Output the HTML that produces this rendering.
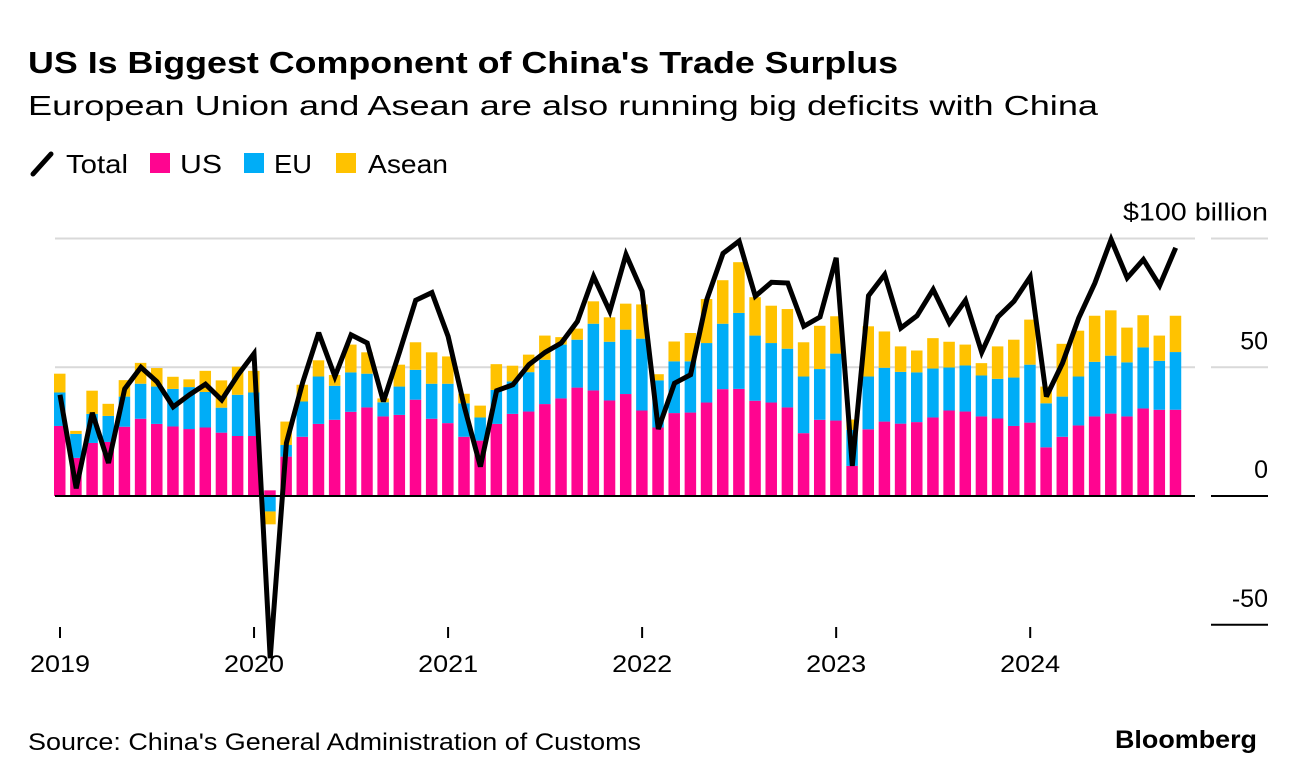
<!DOCTYPE html>
<html><head><meta charset="utf-8"><style>
body{margin:0;background:#fff;width:1296px;height:782px;overflow:hidden;font-family:"Liberation Sans",Arial,sans-serif;}
svg{position:absolute;left:0;top:0}
</style></head><body>
<svg id="c" width="1296" height="782" xmlns="http://www.w3.org/2000/svg">
<text x="28" y="73" font-size="31" font-weight="bold" fill="#000" textLength="870" lengthAdjust="spacingAndGlyphs">US Is Biggest Component of China's Trade Surplus</text>
<text x="28" y="115" font-size="28" fill="#000" textLength="1070" lengthAdjust="spacingAndGlyphs">European Union and Asean are also running big deficits with China</text>
<g>
<g><line x1="33" y1="174" x2="51" y2="154" stroke="#000" stroke-width="5" stroke-linecap="round"/><text x="66" y="173" font-size="26" textLength="62" lengthAdjust="spacingAndGlyphs">Total</text></g>
<g><rect x="150" y="153" width="20" height="20" fill="#ff0590"/><text x="180" y="173" font-size="26" textLength="42" lengthAdjust="spacingAndGlyphs">US</text></g>
<g><rect x="244" y="153" width="20" height="20" fill="#00adf7"/><text x="274" y="173" font-size="26" textLength="38" lengthAdjust="spacingAndGlyphs">EU</text></g>
<g><rect x="336" y="153" width="20" height="20" fill="#ffc200"/><text x="368" y="173" font-size="26" textLength="80" lengthAdjust="spacingAndGlyphs">Asean</text></g>
</g>
<g id="grid"></g><g id="bars"></g><g id="line"></g><g id="axes"></g>
<text x="28" y="750" font-size="24" fill="#000" textLength="613" lengthAdjust="spacingAndGlyphs">Source: China's General Administration of Customs</text>
<text x="1115" y="748" font-size="25" font-weight="bold" fill="#000" textLength="142" lengthAdjust="spacingAndGlyphs">Bloomberg</text>
</svg>
<script>
const years = ["2019","2020","2021","2022","2023","2024"];
const yTicks = [100,50,0,-50];
const usVals = [27.2,14.8,20.6,21,26.9,30,28,27,26,26.6,24.6,23.3,23.3,2.2,15.3,23,28,29.6,32.7,34.4,30.9,31.5,37.4,30,28.3,23,21.5,28,31.9,32.8,35.7,37.9,42.1,41,37.1,39.6,33.2,26.6,32.2,32.4,36.3,41.5,41.6,37,36.3,34.4,24.4,29.6,29.3,11.7,25.9,28.9,28.1,28.7,30.5,33.2,32.8,30.9,30.1,27.2,28.5,18.9,23,27.4,30.9,32,30.9,34,33.5,33.5];
const euVals = [13,9.3,11.3,10.1,11.7,13.6,14.5,14.6,16.3,13.8,9.7,16,16.9,-6,4.5,13.7,18.4,13.2,15.3,13.1,5.5,11,11.6,13.6,15.3,13,9,13.2,12.6,15.3,17.2,20.9,18.6,25.9,22.8,25,27.9,18.3,20.1,19.9,23.1,25.4,29.5,25.3,23.1,22.8,22,19.7,26,14,20.5,20.9,20.1,19.3,19,16.7,17.9,15.9,15.4,18.8,22.5,17.1,15.6,19,21.2,22.5,21,23.7,19,22.4];
const aseanVals = [7.3,1.2,9,4.7,6.4,8.1,7.2,4.7,3,8.2,10.6,10.9,8.4,-5,9.1,6.5,6.3,4.2,10.8,8.3,1.5,8.5,10.7,12.2,10.6,3.7,4.6,10,6.1,6.8,9.4,2.9,4.3,8.7,9.5,10.1,13.3,2.4,7.7,11,17.1,16.9,19.7,14.9,14.5,15.4,13.3,16.8,14.5,4,19.5,14.1,9.9,8.5,11.8,10,8.1,4.8,12.6,14.7,17.5,6.5,20.5,17.8,17.9,17.6,13.5,12.5,9.8,14.1];
const totalVals = [39.3,3,32.3,12.8,41.6,50,44.4,34.6,39.3,43.4,37.3,47,55.3,-63,20.6,44,63.4,46.4,62.6,59.4,36.7,56,76,79,62,34.7,11.4,40.9,43.2,51,55.8,59.4,67.8,85.3,71.7,93.8,79.5,26,43.8,47.1,76.3,94.2,99,77.6,83,82.7,65.9,69.5,92.5,11.7,77.8,86,65.2,70,80.2,67.2,76,55.8,69.5,75.6,85.1,38.6,51.6,69.1,82.7,99.6,84.7,91.8,81.7,96.4];

const NS="http://www.w3.org/2000/svg";
function y(v){return 496 - v*2.575;}
function x(i){return 60 + i*16.17;}
function mk(tag,attrs,parent){const e=document.createElementNS(NS,tag);for(const k in attrs)e.setAttribute(k,attrs[k]);parent.appendChild(e);return e;}
const grid=document.getElementById('grid'),bars=document.getElementById('bars'),line=document.getElementById('line'),axes=document.getElementById('axes');

yTicks.forEach(t=>{
  if(t===100||t===50){
    const g=mk('line',{x1:55,x2:1195,y1:y(t),y2:y(t),stroke:'#d9d9d9','stroke-width':2},grid);
    
    
  }
  const tk=mk('line',{x1:1211,x2:1268,y1:y(t),y2:y(t),stroke:t===0||t===-50?'#000':'#d9d9d9','stroke-width':2},axes);
  
  
  const lb=mk('text',{x:1268,y:y(t)-18,'font-size':25,'text-anchor':'end',fill:'#000'},axes);
  lb.textContent = t===100?'$100 billion':String(t);
  if(t===100){lb.setAttribute('textLength','145');lb.setAttribute('lengthAdjust','spacingAndGlyphs');}
  
  
});
const z=mk('line',{x1:55,x2:1195,y1:y(0),y2:y(0),stroke:'#000','stroke-width':2},axes);



const series=[[usVals,'#ff0590','us'],[euVals,'#00adf7','eu'],[aseanVals,'#ffc200','asean']];
usVals.forEach((_,i)=>{
  let pos=0,neg=0;
  series.forEach(([arr,col,nm])=>{
    const v=arr[i];let y0,y1;
    if(v>=0){y0=pos;y1=pos+v;pos=y1;}else{y0=neg;y1=neg+v;neg=y1;}
    const top=Math.min(y(y0),y(y1)),h=Math.abs(y(y1)-y(y0));
    const r=mk('rect',{x:x(i)-6,y:top,width:11.5,height:h,fill:col},bars);
    
    
  });
});
const d=totalVals.map((v,i)=>(i?'L':'M')+x(i).toFixed(1)+','+y(v).toFixed(1)).join(' ');
const p=mk('path',{d:d,fill:'none',stroke:'#000','stroke-width':5,'stroke-linejoin':'miter','stroke-miterlimit':3},line);



years.forEach((yr,k)=>{
  const xi=x(k*12);
  const t=mk('line',{x1:xi,x2:xi,y1:627,y2:638,stroke:'#000','stroke-width':2},axes);
  
  
  const l=mk('text',{x:xi-30,y:672,'font-size':24,fill:'#000',textLength:60,lengthAdjust:'spacingAndGlyphs'},axes);
  l.textContent=yr;
  
  
});
</script>
</body></html>
